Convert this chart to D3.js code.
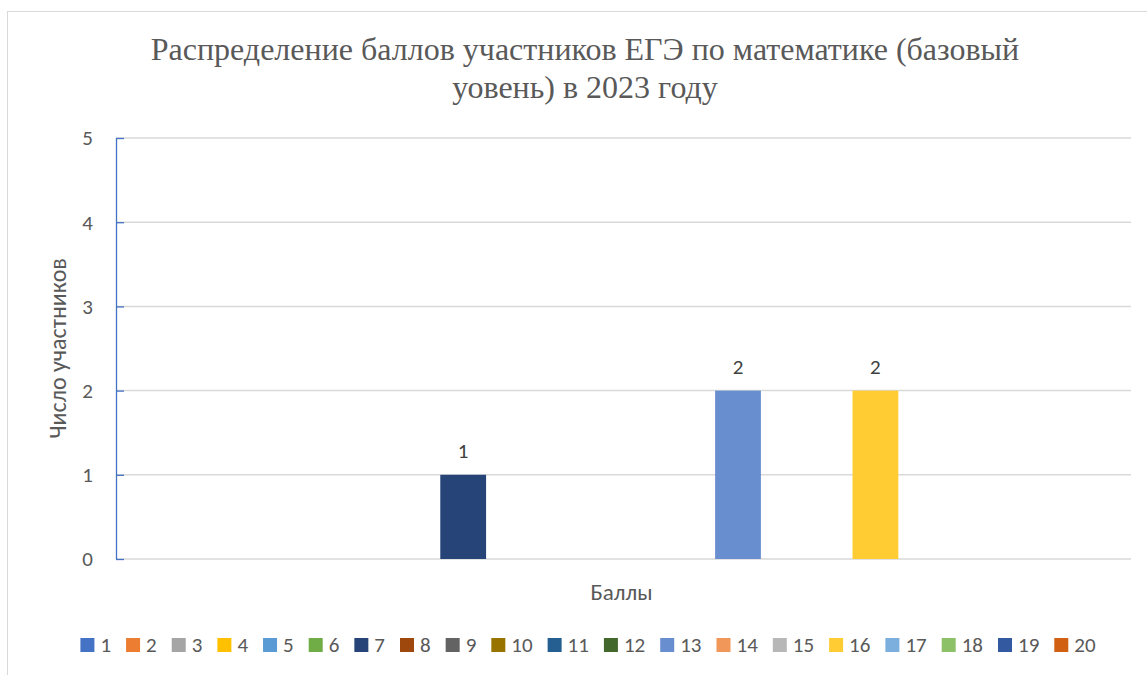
<!DOCTYPE html>
<html>
<head>
<meta charset="utf-8">
<script src="https://cdn.jsdelivr.net/npm/d3@7"></script>
<style>
  body { margin: 0; background: #fff; }
  svg { display: block; }
</style>
</head>
<body>
<svg id="chart" width="1147" height="675"></svg>
<script>
// data
const seriesNames = ["1","2","3","4","5","6","7","8","9","10","11","12","13","14","15","16","17","18","19","20"];
const seriesValues = [0,0,0,0,0,0,1,0,0,0,0,0,2,0,0,2,0,0,0,0];
const seriesColors = ["#4472C4","#ED7D31","#A5A5A5","#FFC000","#5B9BD5","#70AD47","#264478","#9E480E","#636363","#997300",
                      "#255E91","#43682B","#698ED0","#F1975A","#B7B7B7","#FFCD33","#7CAFDD","#8CC168","#335AA1","#D26012"];
const yTicks = [0,1,2,3,4,5];
const titleLines = ["Распределение баллов участников ЕГЭ по математике (базовый", "уовень) в 2023 году"];
const yTitle = "Число участников";
const xTitle = "Баллы";

const sans = "Carlito, Calibri, Lato, sans-serif";
const textColor = "#595959";

const svg = d3.select("#chart");
const plot = { left: 116, right: 1131, top: 138, bottom: 559 };

// chart frame
svg.append("rect")
    .attr("x", 7.5).attr("y", 11.5)
    .attr("width", 1200).attr("height", 700)
    .attr("fill", "#fff")
    .attr("stroke", "#D9D9D9")
    .attr("stroke-width", 1);

const x = d3.scaleBand()
    .domain(seriesNames)
    .range([plot.left, plot.right])
    .paddingInner(0)
    .paddingOuter(1.08);
const y = d3.scaleLinear().domain([0, 5]).range([plot.bottom, plot.top]);
const color = d3.scaleOrdinal().domain(seriesNames).range(seriesColors);

// gridlines
svg.append("g")
    .selectAll("line")
    .data(yTicks)
    .enter().append("line")
    .attr("x1", plot.left).attr("x2", plot.right)
    .attr("y1", d => y(d)).attr("y2", d => y(d))
    .attr("stroke", "#D9D9D9")
    .attr("stroke-width", 1.5);

// y axis
const yAxis = svg.append("g")
    .attr("transform", "translate(" + plot.left + ",0)")
    .call(d3.axisRight(y).tickValues(yTicks).tickSize(8).tickFormat(""));
yAxis.select(".domain").attr("stroke", "#4472C4").attr("stroke-width", 1.3)
    .attr("d", "M0.5," + plot.top + "V" + plot.bottom);
yAxis.selectAll(".tick line").attr("stroke", "#4472C4").attr("stroke-width", 1.3);

svg.append("g")
    .selectAll("text")
    .data(yTicks)
    .enter().append("text")
    .attr("x", 93)
    .attr("y", d => y(d))
    .attr("dy", "0.35em")
    .attr("text-anchor", "end")
    .attr("font-family", sans)
    .attr("font-size", 21)
    .attr("fill", textColor)
    .text(d => d);

// bars
const data = seriesNames.map((s, i) => ({ name: s, value: seriesValues[i] }));
svg.append("g")
    .selectAll("rect")
    .data(data.filter(d => d.value > 0))
    .enter().append("rect")
    .attr("x", d => x(d.name))
    .attr("y", d => y(d.value))
    .attr("width", x.bandwidth())
    .attr("height", d => y(0) - y(d.value))
    .attr("fill", d => color(d.name));

// data labels
svg.append("g")
    .selectAll("text")
    .data(data.filter(d => d.value > 0))
    .enter().append("text")
    .attr("x", d => x(d.name) + x.bandwidth() / 2)
    .attr("y", d => y(d.value) - 17)
    .attr("text-anchor", "middle")
    .attr("font-family", sans)
    .attr("font-size", 21)
    .attr("fill", "#404040")
    .text(d => d.value);

// title
svg.append("text")
    .attr("text-anchor", "middle")
    .attr("font-family", "'Liberation Serif', 'Times New Roman', serif")
    .attr("font-size", 32)
    .attr("fill", textColor)
    .selectAll("tspan")
    .data(titleLines)
    .enter().append("tspan")
    .attr("x", 585)
    .attr("y", (d, i) => 60 + i * 38)
    .text(d => d);

// axis titles
svg.append("text")
    .attr("transform", "translate(66," + ((plot.top + plot.bottom) / 2) + ") rotate(-90)")
    .attr("text-anchor", "middle")
    .attr("font-family", sans)
    .attr("font-size", 24)
    .attr("fill", textColor)
    .text(yTitle);

svg.append("text")
    .attr("x", (plot.left + plot.right) / 2 - 2)
    .attr("y", 600)
    .attr("text-anchor", "middle")
    .attr("font-family", sans)
    .attr("font-size", 23)
    .attr("fill", textColor)
    .text(xTitle);

// legend
const legend = svg.append("g");
let lx = 0;
seriesNames.forEach((s, i) => {
    const item = legend.append("g").attr("transform", "translate(" + lx + ",0)");
    item.append("rect")
        .attr("x", 0).attr("y", 638)
        .attr("width", 14).attr("height", 14)
        .attr("fill", color(s));
    const t = item.append("text")
        .attr("x", 20).attr("y", 652)
        .attr("font-family", sans)
        .attr("font-size", 21)
        .attr("fill", textColor)
        .text(s);
    lx += 20 + t.node().getComputedTextLength() + 15;
});
const legendWidth = lx - 15;
legend.attr("transform", "translate(" + (588 - legendWidth / 2) + ",0)");
</script>
</body>
</html>
